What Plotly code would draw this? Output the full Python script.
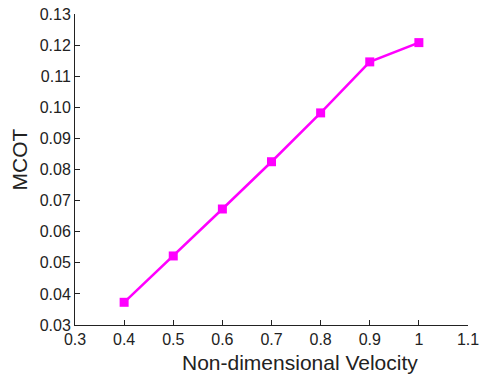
import plotly.graph_objects as go

velocity = [0.4, 0.5, 0.6, 0.7, 0.8, 0.9, 1.0]
mcot = [0.0373, 0.0522, 0.0673, 0.0825, 0.0982, 0.1146, 0.1208]

fig = go.Figure()
fig.add_trace(go.Scatter(
    x=velocity, y=mcot, mode="lines+markers",
    line=dict(color="#FF00FF", width=2.5),
    marker=dict(symbol="square", size=9, color="#FF00FF"),
    showlegend=False,
))

font = dict(family="Liberation Sans, Arial, sans-serif", color="#222222")
fig.update_layout(
    width=482, height=375,
    margin=dict(l=75, r=14, t=14, b=50, autoexpand=False),
    paper_bgcolor="white", plot_bgcolor="white",
    font=dict(size=16, **font),
)
fig.update_xaxes(
    range=[0.3, 1.1], tickvals=[0.3, 0.4, 0.5, 0.6, 0.7, 0.8, 0.9, 1.0, 1.1],
    ticktext=["0.3", "0.4", "0.5", "0.6", "0.7", "0.8", "0.9", "1", "1.1"],
    showgrid=False, zeroline=False, showline=True, linecolor="#222222", linewidth=1,
    ticks="inside", ticklen=5, tickcolor="#222222", automargin=False,
)
fig.update_yaxes(
    range=[0.03, 0.13], dtick=0.01, tickformat=".2f",
    showgrid=False, zeroline=False, showline=True, linecolor="#222222", linewidth=1,
    ticks="inside", ticklen=5, tickcolor="#222222", automargin=False,
)
# axis titles placed like the reference (slightly off-centre)
fig.add_annotation(text="Non-dimensional Velocity", xref="paper", yref="paper",
                   x=(300 - 75) / 393, y=(325 - 362) / 311, xanchor="center", yanchor="middle",
                   showarrow=False, font=dict(size=21))
fig.add_annotation(text="MCOT", xref="paper", yref="paper",
                   x=(18.5 - 75) / 393, y=(325 - 160) / 311, xanchor="center", yanchor="middle",
                   textangle=-90, showarrow=False, font=dict(size=21))
fig.write_html("out.html", config={"displayModeBar": False},
               post_script="document.body.style.margin='0';document.body.style.overflow='hidden';")
